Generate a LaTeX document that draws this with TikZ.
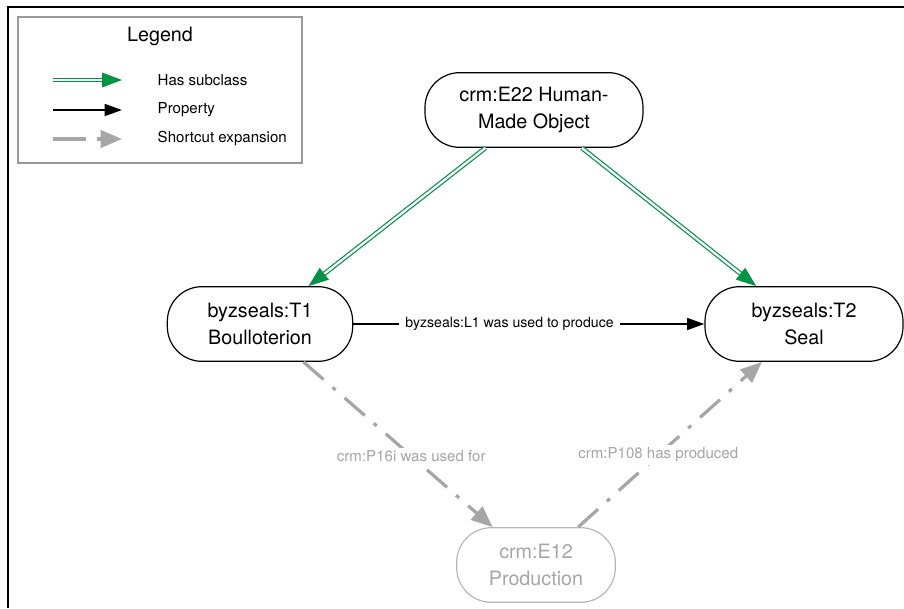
\documentclass[tikz,border=0pt]{standalone}
\usepackage{fontspec}
\setmainfont{TeX Gyre Heros}
\usetikzlibrary{arrows.meta}

\definecolor{subgreen}{RGB}{0,146,69}
\definecolor{shortgray}{RGB}{166,166,166}

\tikzset{
    cls/.style={draw=black, line width=0.9pt, rounded corners=26pt, minimum height=56pt,
        align=center, font=\fontsize{14.8}{20}\selectfont},
    shortcls/.style={cls, draw=shortgray!80, text=shortgray},
    subclass/.style={draw=subgreen, double=white, double distance=1.7pt, line width=0.9pt,
        -{Triangle[length=15pt, width=11pt]}},
    property/.style={draw=black, line width=1.3pt, -{Triangle[length=13pt, width=9pt]}},
    shortcut/.style={draw=shortgray, line width=2.4pt, dash pattern=on 20pt off 9pt on 3pt off 9pt,
        -{Triangle[length=16pt, width=13pt]}},
    keyshortcut/.style={shortcut, dash pattern=on 25pt off 8pt},
    edgelabel/.style={fill=white, inner xsep=5pt, inner ysep=2pt, font=\fontsize{10.6}{12}\selectfont},
    keylabel/.style={anchor=west, font=\fontsize{11.3}{13}\selectfont},
}

\begin{document}
\begin{tikzpicture}[x=0.75pt, y=-0.75pt]
        \useasboundingbox (0,0) rectangle (904,608);

        % frame
        \draw[line width=1pt] (8,608) -- (8,7) -- (904,7);

        % Legend
        \draw[gray!80, line width=0.8pt] (18,17) rectangle (302,163);
        \node[font=\fontsize{14.8}{16}\selectfont] (legendtitle) at (160,36) {Legend};
        \foreach \y/\s/\t [count=\i] in {80/subclass/Has subclass, 110/property/Property, 139/keyshortcut/Shortcut expansion} {
            \coordinate (keyfrom\i) at (53,\y);
            \coordinate (keyto\i) at (122,\y);
            \draw[\s] (keyfrom\i) -- (keyto\i);
            \node[keylabel] (key\i) at (153,\y) {\t};
        }

        % classes
        \node[cls, minimum width=163.5pt] (e22) at (534,110) {crm:E22 Human-\\Made Object};
        \node[cls, minimum width=139pt] (t1) at (260,324) {byzseals:T1\\Boulloterion};
        \node[cls, minimum width=148.5pt] (t2) at (804,324) {byzseals:T2\\Seal};
        \node[shortcls, minimum width=119pt] (e12) at (536,565) {crm:E12\\Production};

        % subclasses
        \draw[subclass] (e22) -- (t1);
        \draw[subclass] (e22) -- (t2);

        % property
        \draw[property] (t1) -- node[edgelabel, pos=0.445] (l1) {byzseals:L1 was used to produce} (t2);

        % shortcut expansion
        \draw[shortcut] (t1) -- node[edgelabel, keylabel, anchor=center, text=shortgray, pos=0.57] (p16i) {crm:P16i was used for} (e12);
        \draw[shortcut] (e12) -- node[edgelabel, keylabel, anchor=center, text=shortgray, pos=0.436] (p108) {crm:P108 has produced} (t2);

    \end{tikzpicture}
\end{document}
